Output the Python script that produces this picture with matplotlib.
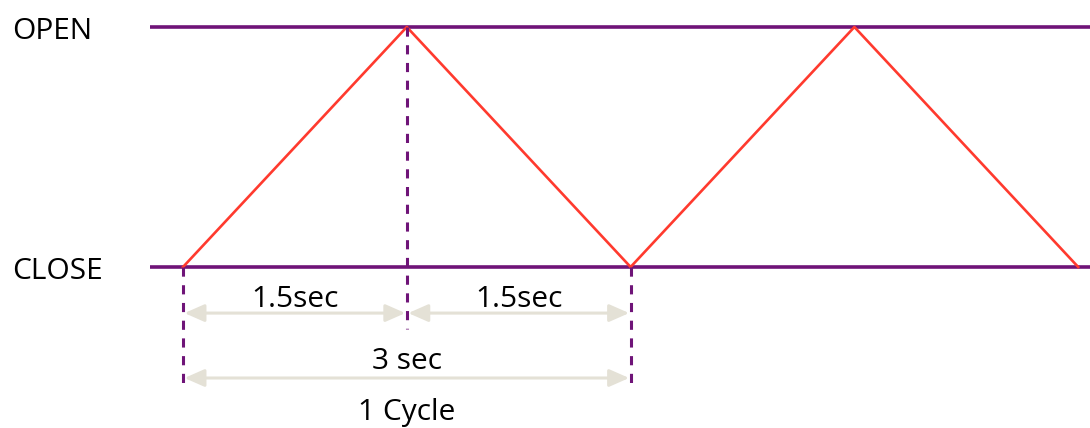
import numpy as np
import matplotlib
matplotlib.use('Agg')
import matplotlib.pyplot as plt

# valve position over time (0 = CLOSE, 1 = OPEN)
t_points = [0.0, 1.5, 3.0, 4.5, 6.0]
level_points = [0, 1, 0, 1, 0]
state_labels = ['CLOSE', 'OPEN']
state_levels = [0, 1]
# marked intervals: (start, end, label)
half_spans = [(0.0, 1.5, '1.5sec'), (1.5, 3.0, '1.5sec')]
cycle_span = (0.0, 3.0, '3 sec', '1 Cycle')

purple = '#6f1478'
red = '#ff3a2e'
arrow_col = '#e4e1d6'

# pixel mapping of the original picture
px_per_sec = 149.2
x0_px = 183.0
W, H = 1090, 428
close_px, open_px = 267.0, 27.0
px_per_lvl = close_px - open_px

fig = plt.figure(figsize=(W / 100, H / 100), dpi=100)
ax = fig.add_axes([0, 0, 1, 1])
ax.set_xlim(-x0_px / px_per_sec, (W - x0_px) / px_per_sec)
ax.set_ylim((close_px - H) / px_per_lvl, close_px / px_per_lvl)
ax.axis('off')

font = ['Open Sans', 'DejaVu Sans']
fs = 21.5
astyle = '<|-|>,head_length=0.5,head_width=0.22'
dy = -0.017  # text baseline nudge

# state lines + labels
x_start = (150 - x0_px) / px_per_sec
for lab, lv in zip(state_labels, state_levels):
    ax.plot([x_start, ax.get_xlim()[1] + 1], [lv, lv], color=purple, lw=2.6,
            solid_capstyle='butt', zorder=2)
    ax.text(-1.145, lv + dy, lab, fontsize=fs, family=font, ha='left', va='center')

# red triangle wave
ax.plot(t_points, level_points, color=red, lw=1.9, zorder=3)

# dashed markers
dash = (0, (3.0, 2.8))
ax.plot([0, 0], [0, -0.505], color=purple, lw=2.2, ls=dash, zorder=4)
ax.plot([1.5, 1.5], [1, -0.26], color=purple, lw=2.2, ls=dash, zorder=4)
ax.plot([3.0, 3.0], [0, -0.505], color=purple, lw=2.2, ls=dash, zorder=4)

# interval arrows
for a, b, lab in half_spans:
    ax.annotate('', xy=(b - 0.01, -0.192), xytext=(a + 0.01, -0.192),
                arrowprops=dict(arrowstyle=astyle, color=arrow_col, lw=2.2,
                                mutation_scale=24, shrinkA=0, shrinkB=0))
    ax.text((a + b) / 2, -0.118 + dy, lab, fontsize=fs, family=font,
            ha='center', va='center')

a, b, lab1, lab2 = cycle_span
ax.annotate('', xy=(b - 0.01, -0.4625), xytext=(a + 0.01, -0.4625),
            arrowprops=dict(arrowstyle=astyle, color=arrow_col, lw=2.2,
                            mutation_scale=24, shrinkA=0, shrinkB=0))
ax.text((a + b) / 2, -0.375 + dy, lab1, fontsize=fs, family=font,
        ha='center', va='center')
ax.text((a + b) / 2, -0.59 + dy, lab2, fontsize=fs, family=font,
        ha='center', va='center')

fig.savefig('out.png', dpi=100)
